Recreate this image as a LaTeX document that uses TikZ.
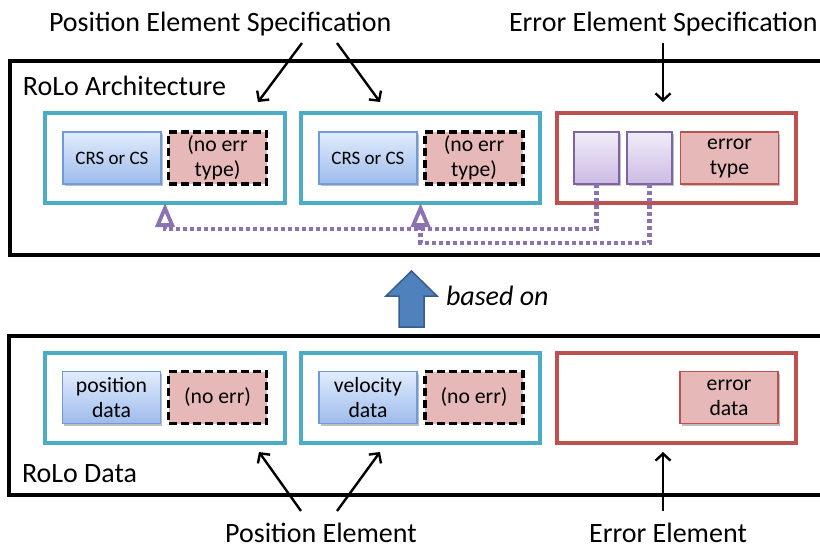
\documentclass[tikz,border=0pt]{standalone}
\usepackage{fontspec}
\setmainfont{Carlito}
\usetikzlibrary{arrows.meta,shadows}
\definecolor{cyanB}{HTML}{4BACC6}
\definecolor{redB}{HTML}{C0504D}
\definecolor{redF}{HTML}{E6B9B8}
\definecolor{blueTop}{HTML}{E2ECFC}
\definecolor{blueBot}{HTML}{9DBBEC}
\definecolor{blueBorder}{HTML}{6F9BD8}
\definecolor{purTop}{HTML}{F1ECF8}
\definecolor{purBot}{HTML}{CCBBE4}
\definecolor{purB}{HTML}{8064A2}
\definecolor{purL}{HTML}{8C72B0}
\definecolor{arrowF}{HTML}{4F81BD}
\definecolor{arrowB}{HTML}{385D8A}
\begin{document}
\begin{tikzpicture}[x=1pt,y=-1pt,
  big/.style={font=\fontsize{28}{32}\selectfont, inner sep=0, outer sep=0},
  outerbox/.style={draw=black, line width=3.5pt, inner sep=0, outer sep=0, anchor=north west},
  elem/.style={draw=cyanB, line width=3.5pt, minimum width=240pt, minimum height=90pt, inner sep=0, outer sep=0},
  errelem/.style={elem, draw=redB},
  small/.style={font=\fontsize{21.7}{25}\selectfont, align=center, inner sep=0, outer sep=0, minimum height=52pt},
  shad/.style={drop shadow={shadow xshift=1.5pt, shadow yshift=-2pt, opacity=0.25, fill=black}},
  bluebox/.style={small, shad, draw=blueBorder, line width=1.2pt, top color=blueTop, bottom color=blueBot, minimum width=98pt},
  purbox/.style={small, shad, draw=purB, line width=1.4pt, top color=purTop, bottom color=purBot, minimum width=45pt},
  redbox/.style={small, shad, draw=redB, line width=1.6pt, fill=redF, minimum width=98pt},
  nebox/.style={small, draw=black, line width=3.2pt, dash pattern=on 8pt off 4pt, fill=redF, minimum width=98pt},
  pointer/.style={line width=2.4pt, -{Straight Barb[length=7pt, width=15pt]}},
  pconn/.style={draw=purL, line width=4.2pt, dash pattern=on 3.8pt off 3.2pt, -{Triangle[open, length=24pt, width=19pt, line width=3.8pt]}}
]
\useasboundingbox (0,0) rectangle (820,549);

% outer boxes
\node[outerbox, minimum width=830pt, minimum height=194pt] (arch) at (10,61) {};
\node[outerbox, minimum width=830pt, minimum height=159pt] (data) at (9,336) {};
\node[big, anchor=base west] (archlbl) at (23,95) {RoLo Architecture};
\node[big, anchor=base west] (datalbl) at (22,482) {RoLo Data};

% architecture row
\node[elem] (cy1) at (165,158) {};
\node[elem, minimum width=239pt] (cy2) at (420.5,158) {};
\node[errelem, minimum width=239pt] (re1) at (676.5,158) {};
\node[bluebox, font=\fontsize{19}{25}\selectfont] (crs1) at (112,158) {CRS or CS};
\node[nebox] (ne1) at (217.5,158) {(no err\\type)};
\node[bluebox, font=\fontsize{19}{25}\selectfont] (crs2) at (368,158) {CRS or CS};
\node[nebox] (ne2) at (474,158) {(no err\\type)};
\node[purbox] (pur1) at (596.5,158) {};
\node[purbox] (pur2) at (649.5,158) {};
\node[redbox] (errt) at (729.5,158) {error\\type};

% data row
\node[elem] (cy3) at (165,398) {};
\node[elem, minimum width=239pt] (cy4) at (420.5,398) {};
\node[errelem, minimum width=239pt] (re2) at (676.5,398) {};
\node[bluebox] (pos) at (111.5,397.5) {position\\data};
\node[nebox] (ne3) at (217.5,397.5) {(no err)};
\node[bluebox] (vel) at (368,397.5) {velocity\\data};
\node[nebox] (ne4) at (474,397.5) {(no err)};
\node[redbox] (errd) at (729,397.5) {error\\data};

% dotted references
\coordinate (lvl1) at (0,229);
\coordinate (lvl2) at (0,243);
\draw[pconn] (pur1.south) -- (pur1.south |- lvl1) -| (cy1.south);
\draw[pconn] (pur2.south) -- (pur2.south |- lvl2) -| (cy2.south);

% based on arrow
\draw[draw=arrowB, line width=1.5pt, fill=arrowF] (399,327) -- (399,296) -- (386,296) -- (411.5,271) -- (437,296) -- (424,296) -- (424,327) -- cycle;
\node[big, anchor=base west, font=\fontsize{28}{32}\selectfont\itshape] (basedon) at (446,305) {based on};

% top labels
\node[big, anchor=base west] (pes) at (49,31) {Position Element Specification};
\node[big, anchor=base west] (ees) at (509,31) {Error Element Specification};
\coordinate (p1s) at (302,43);
\coordinate (p1e) at (258,102);
\coordinate (p2s) at (337,43);
\coordinate (p2e) at (380,102);
\coordinate (e1s) at (663,43);
\coordinate (e1e) at (663,102);
\draw[pointer] (p1s) -- (p1e);
\draw[pointer] (p2s) -- (p2e);
\draw[pointer] (e1s) -- (e1e);

% bottom labels
\node[big, anchor=base] (pe) at (321,542) {Position Element};
\node[big, anchor=base] (ee) at (668,542) {Error Element};
\coordinate (q1s) at (301,511);
\coordinate (q1e) at (259,452);
\coordinate (q2s) at (337,511);
\coordinate (q2e) at (380,452);
\coordinate (r1s) at (663,511);
\coordinate (r1e) at (663,452);
\draw[pointer] (q1s) -- (q1e);
\draw[pointer] (q2s) -- (q2e);
\draw[pointer] (r1s) -- (r1e);
\end{tikzpicture}
\end{document}
